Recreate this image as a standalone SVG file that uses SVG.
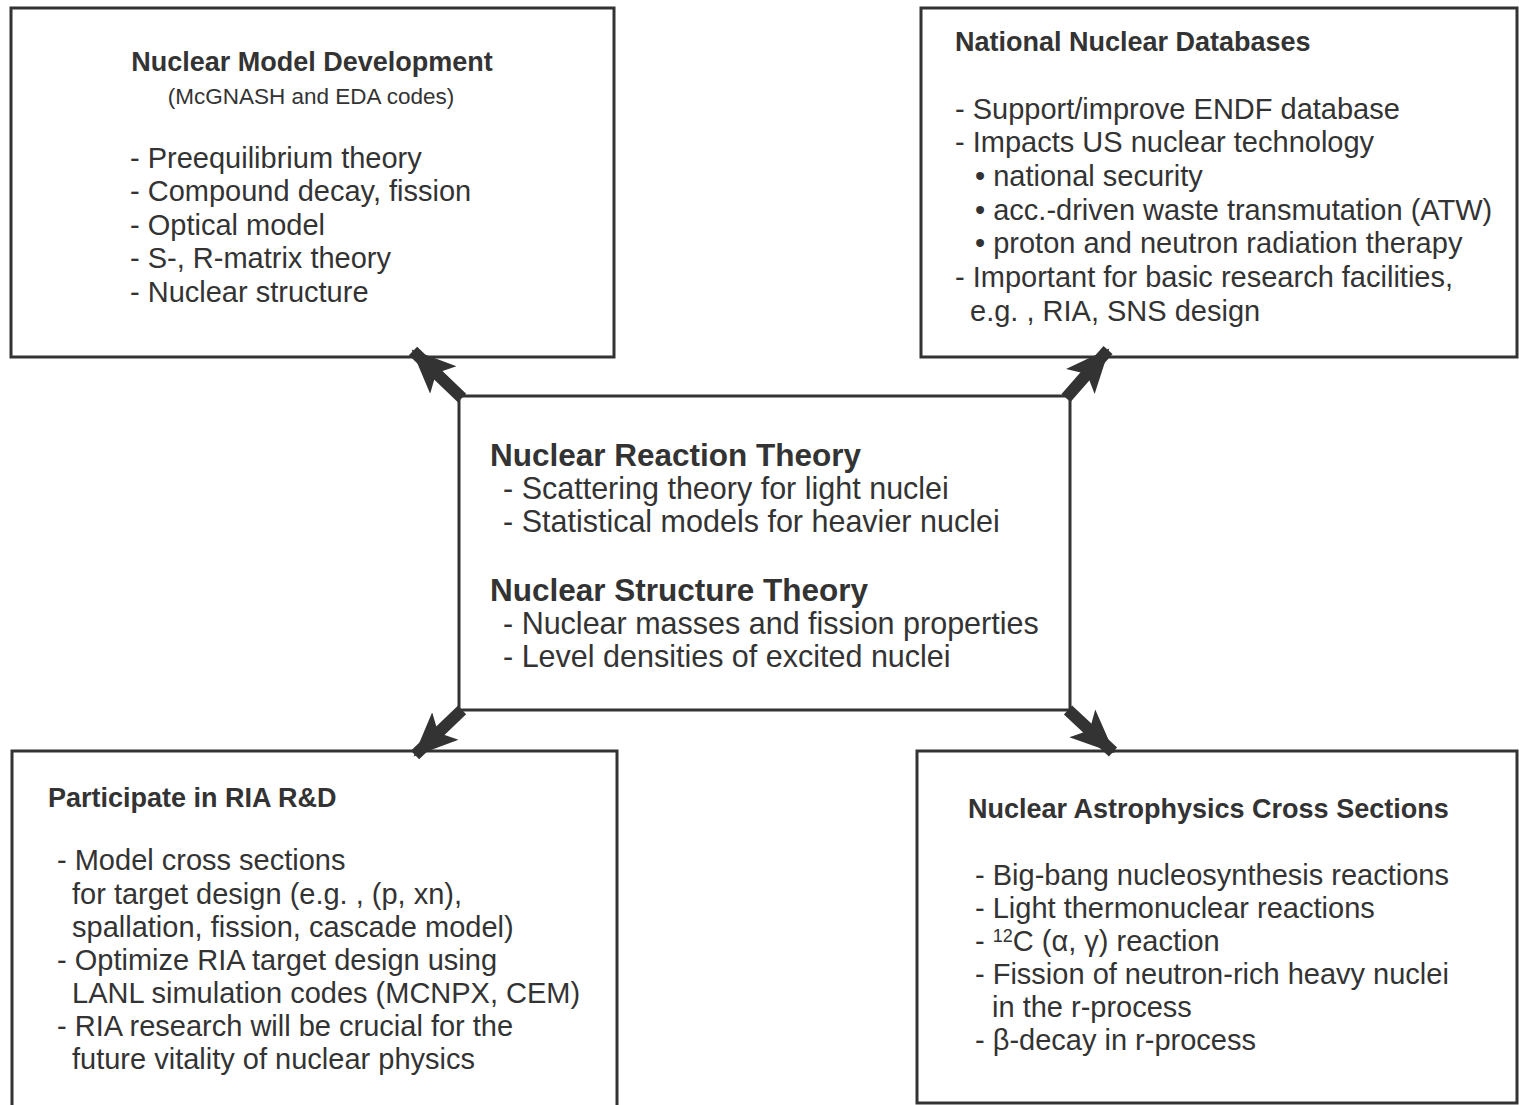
<svg xmlns="http://www.w3.org/2000/svg" width="1519" height="1105" viewBox="0 0 1519 1105">
<defs>
<style>
.box{fill:#fff;stroke:#333;stroke-width:3}
text{font-family:"Liberation Sans",Arial,sans-serif;fill:#333}
.h{font-weight:bold;font-size:27px}
.t{font-size:29px}
.c{font-size:30.5px}
.ch{font-weight:bold;font-size:31.5px}
.s{font-size:22.5px}
.conn{stroke:#333;stroke-width:12;fill:none}
</style>
<marker id="ah" markerUnits="userSpaceOnUse" markerWidth="50" markerHeight="50" viewBox="0 0 50 50" refX="42" refY="25" orient="auto">
<path d="M0,6 L44,25 L0,44 L10,25 Z" fill="#333"/>
</marker>
</defs>
<rect width="1519" height="1105" fill="#fff"/>
<g id="n1">
<rect class="box" x="11" y="8" width="603" height="349"/>
<text class="h" x="312" y="71" text-anchor="middle">Nuclear Model Development</text>
<text class="s" x="311" y="104" text-anchor="middle">(McGNASH and EDA codes)</text>
<text class="t" x="130" y="168">- Preequilibrium theory</text>
<text class="t" x="130" y="201">- Compound decay, fission</text>
<text class="t" x="130" y="235">- Optical model</text>
<text class="t" x="130" y="268">- S-, R-matrix theory</text>
<text class="t" x="130" y="302">- Nuclear structure</text>
</g>
<g id="n2">
<rect class="box" x="921" y="8" width="596" height="349"/>
<text class="h" x="955" y="51">National Nuclear Databases</text>
<text class="t" x="955" y="119">- Support/improve ENDF database</text>
<text class="t" x="955" y="152">- Impacts US nuclear technology</text>
<text class="t" x="975" y="186">• national security</text>
<text class="t" x="975" y="220">• acc.-driven waste transmutation (ATW)</text>
<text class="t" x="975" y="253">• proton and neutron radiation therapy</text>
<text class="t" x="955" y="287">- Important for basic research facilities,</text>
<text class="t" x="970" y="321">e.g. , RIA, SNS design</text>
</g>
<g id="n3">
<rect class="box" x="459" y="396" width="611" height="314"/>
<text class="ch" x="490" y="466">Nuclear Reaction Theory</text>
<text class="c" x="503" y="499">- Scattering theory for light nuclei</text>
<text class="c" x="503" y="532">- Statistical models for heavier nuclei</text>
<text class="ch" x="490" y="601">Nuclear Structure Theory</text>
<text class="c" x="503" y="634">- Nuclear masses and fission properties</text>
<text class="c" x="503" y="667">- Level densities of excited nuclei</text>
</g>
<g id="n4">
<rect class="box" x="12" y="751" width="605" height="360"/>
<text class="h" x="48" y="807">Participate in RIA R&amp;D</text>
<text class="t" x="57" y="870">- Model cross sections</text>
<text class="t" x="72" y="904">for target design (e.g. , (p, xn),</text>
<text class="t" x="72" y="937">spallation, fission, cascade model)</text>
<text class="t" x="57" y="970">- Optimize RIA target design using</text>
<text class="t" x="72" y="1003">LANL simulation codes (MCNPX, CEM)</text>
<text class="t" x="57" y="1036">- RIA research will be crucial for the</text>
<text class="t" x="72" y="1069">future vitality of nuclear physics</text>
</g>
<g id="n5">
<rect class="box" x="917" y="751" width="600" height="352"/>
<text class="h" x="968" y="818">Nuclear Astrophysics Cross Sections</text>
<text class="t" x="975" y="885">- Big-bang nucleosynthesis reactions</text>
<text class="t" x="975" y="918">- Light thermonuclear reactions</text>
<text class="t" x="975" y="951">-  <tspan font-size="18" dy="-9">12</tspan><tspan dy="9">C (α, γ) reaction</tspan></text>
<text class="t" x="975" y="984">- Fission of neutron-rich heavy nuclei</text>
<text class="t" x="992" y="1017">in the r-process</text>
<text class="t" x="975" y="1050">- β-decay in r-process</text>
</g>
<g id="connectors">
<line class="conn" x1="462" y1="398" x2="413" y2="351" marker-end="url(#ah)"/>
<line class="conn" x1="1066" y1="398" x2="1108" y2="350" marker-end="url(#ah)"/>
<line class="conn" x1="462" y1="710" x2="415" y2="755" marker-end="url(#ah)"/>
<line class="conn" x1="1068" y1="710" x2="1113" y2="752" marker-end="url(#ah)"/>
</g>
</svg>
